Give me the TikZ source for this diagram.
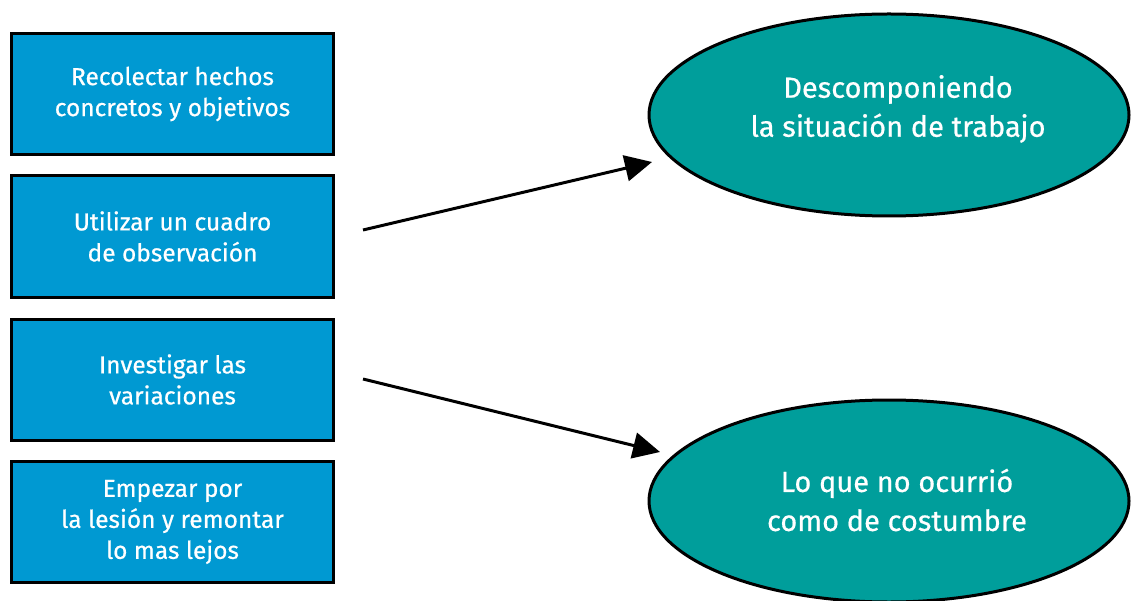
\documentclass[tikz,border=0pt]{standalone}
\usepackage{fontspec}
\setmainfont{Fira Sans}[UprightFeatures={FakeBold=0.6}]
\usetikzlibrary{arrows.meta,shapes.geometric}
\definecolor{boxblue}{RGB}{0,153,210}
\definecolor{tealfill}{RGB}{0,158,155}
\tikzset{
  stepbox/.style={draw=black, line width=3pt, fill=boxblue, minimum width=322pt, minimum height=121pt,
    text=white, align=center, font=\fontsize{24.5}{31}\selectfont, inner sep=0pt},
  goal/.style={draw=black, line width=3pt, fill=tealfill, ellipse, minimum width=480pt, minimum height=202pt, inner sep=0pt},
  goaltext/.style={text=white, align=center, font=\fontsize{29}{39}\selectfont, inner sep=0pt},
  conn/.style={line width=3pt, -{Triangle[length=27pt,width=26pt]}}
}
\begin{document}
\begin{tikzpicture}[x=1pt,y=-1pt]
\useasboundingbox (0,0) rectangle (1131,601);
\node[stepbox] (b1) at (172.5,94) {Recolectar hechos\\concretos y objetivos};
\node[stepbox] (b2) at (172.5,236.5) {Utilizar un cuadro\\de observación};
\node[stepbox] (b3) at (172.5,379.5) {Investigar las\\variaciones};
\node[stepbox] (b4) at (172.5,522) {Empezar por\\la lesión y remontar\\lo mas lejos};
\node[goal] (e1) at (889,115) {};
\node[goaltext] (t1text) at (898,109) {Descomponiendo\\la situación de trabajo};
\node[goal] (e2) at (889,501) {};
\node[goaltext] (t2text) at (897,500) {Lo que no ocurrió\\como de costumbre};
\coordinate (s1) at (363,230);
\coordinate (t1) at (652,162);
\coordinate (s2) at (363,379);
\coordinate (t2) at (660,452);
\draw[conn] (s1) -- (t1);
\draw[conn] (s2) -- (t2);
\end{tikzpicture}
\end{document}
